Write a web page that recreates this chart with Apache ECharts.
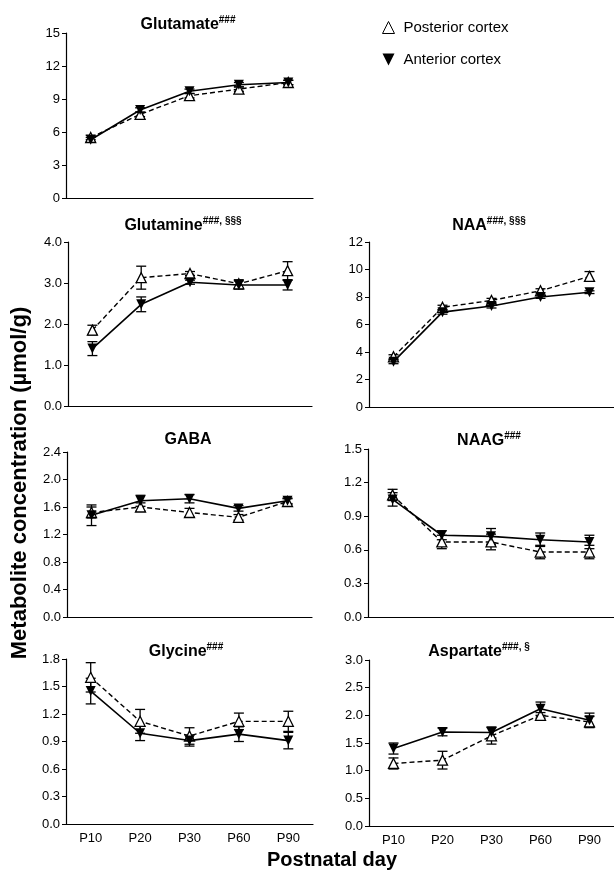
<!DOCTYPE html>
<html>
<head>
<meta charset="utf-8">
<script src="https://cdn.jsdelivr.net/npm/echarts@6/dist/echarts.min.js"></script>
<style>
  html, body { margin: 0; padding: 0; background: #fff; }
  #chart { width: 614px; height: 870px; }
</style>
</head>
<body>
<div id="chart"></div>
<script>
const days = ['P10', 'P20', 'P30', 'P60', 'P90'];

// posterior = open triangle, dashed; anterior = filled down triangle, solid
const gluPost = [5.5, 7.6, 9.3, 9.9, 10.5];
const gluPostErr = [0.2, 0.2, 0.2, 0.2, 0.2];
const gluAnt = [5.3, 8.0, 9.7, 10.3, 10.5];
const gluAntErr = [0.2, 0.2, 0.2, 0.2, 0.2];

const glnPost = [1.85, 3.13, 3.23, 2.98, 3.3];
const glnPostErr = [0.12, 0.28, 0.05, 0.1, 0.22];
const glnAnt = [1.4, 2.48, 3.02, 2.95, 2.95];
const glnAntErr = [0.17, 0.18, 0.05, 0.1, 0.12];

const naaPost = [3.65, 7.25, 7.75, 8.45, 9.5];
const naaPostErr = [0.15, 0.15, 0.15, 0.15, 0.35];
const naaAnt = [3.3, 6.9, 7.35, 8.0, 8.35];
const naaAntErr = [0.15, 0.15, 0.15, 0.1, 0.1];

const gabaPost = [1.52, 1.6, 1.52, 1.45, 1.68];
const gabaPostErr = [0.08, 0.06, 0.06, 0.04, 0.04];
const gabaAnt = [1.48, 1.69, 1.72, 1.58, 1.69];
const gabaAntErr = [0.15, 0.08, 0.06, 0.04, 0.04];

const naagPost = [1.09, 0.67, 0.67, 0.58, 0.58];
const naagPostErr = [0.05, 0.06, 0.07, 0.06, 0.06];
const naagAnt = [1.05, 0.73, 0.72, 0.69, 0.67];
const naagAntErr = [0.06, 0.04, 0.07, 0.06, 0.06];

const glyPost = [1.6, 1.12, 0.96, 1.12, 1.12];
const glyPostErr = [0.16, 0.13, 0.09, 0.09, 0.11];
const glyAnt = [1.45, 0.99, 0.91, 0.98, 0.91];
const glyAntErr = [0.14, 0.08, 0.06, 0.08, 0.09];

const aspPost = [1.13, 1.19, 1.63, 2.0, 1.88];
const aspPostErr = [0.1, 0.16, 0.15, 0.05, 0.1];
const aspAnt = [1.4, 1.7, 1.69, 2.12, 1.91];
const aspAntErr = [0.1, 0.07, 0.1, 0.12, 0.13];

const panels = [
    { name: 'Glutamate', sup: '###', post: gluPost, postErr: gluPostErr, ant: gluAnt, antErr: gluAntErr, max: 15, step: 3, dec: 0 },
    { name: 'Glutamine', sup: '###, §§§', post: glnPost, postErr: glnPostErr, ant: glnAnt, antErr: glnAntErr, max: 4, step: 1, dec: 1 },
    { name: 'NAA', sup: '###, §§§', post: naaPost, postErr: naaPostErr, ant: naaAnt, antErr: naaAntErr, max: 12, step: 2, dec: 0 },
    { name: 'GABA', sup: '', post: gabaPost, postErr: gabaPostErr, ant: gabaAnt, antErr: gabaAntErr, max: 2.4, step: 0.4, dec: 1 },
    { name: 'NAAG', sup: '###', post: naagPost, postErr: naagPostErr, ant: naagAnt, antErr: naagAntErr, max: 1.5, step: 0.3, dec: 1 },
    { name: 'Glycine', sup: '###', post: glyPost, postErr: glyPostErr, ant: glyAnt, antErr: glyAntErr, max: 1.8, step: 0.3, dec: 1 },
    { name: 'Aspartate', sup: '###, §', post: aspPost, postErr: aspPostErr, ant: aspAnt, antErr: aspAntErr, max: 3, step: 0.5, dec: 1 }
];

// layout in pixels
const grids = [
    { left: 66, top: 33, width: 247, height: 165 },
    { left: 68, top: 242, width: 244, height: 164 },
    { left: 369, top: 242, width: 249, height: 165 },
    { left: 67, top: 452, width: 245, height: 165 },
    { left: 368, top: 449, width: 250, height: 168 },
    { left: 66, top: 659, width: 247, height: 165 },
    { left: 369, top: 660, width: 249, height: 166 }
];
const titlePos = [[188, 15], [183, 216], [489, 216], [188, 430], [489, 431], [186, 642], [479, 642]];

const FONT = 'Liberation Sans, Arial, sans-serif';

function errRender(params, api) {
    const x = api.value(0);
    const lo = api.coord([x, api.value(1)]);
    const hi = api.coord([x, api.value(2)]);
    const w = 5;
    const st = { stroke: '#000', lineWidth: 1.3 };
    return {
        type: 'group',
        children: [
            { type: 'line', shape: { x1: lo[0], y1: lo[1], x2: hi[0], y2: hi[1] }, style: st },
            { type: 'line', shape: { x1: lo[0] - w, y1: lo[1], x2: lo[0] + w, y2: lo[1] }, style: st },
            { type: 'line', shape: { x1: hi[0] - w, y1: hi[1], x2: hi[0] + w, y2: hi[1] }, style: st }
        ]
    };
}

function errData(vals, errs) {
    return vals.map((v, i) => [i, v - errs[i], v + errs[i]]);
}

var myChart = echarts.init(document.getElementById('chart'), null, { renderer: 'canvas' });

const title = [], grid = [], xAxis = [], yAxis = [], series = [];

panels.forEach((p, k) => {
    title.push({
        text: p.sup ? '{t|' + p.name + '}{s|' + p.sup + '}' : '{t|' + p.name + '}',
        left: titlePos[k][0],
        top: titlePos[k][1],
        textAlign: 'center',
        padding: 0,
        textStyle: {
            rich: {
                t: { fontFamily: FONT, fontWeight: 'bold', fontSize: 16, color: '#000', lineHeight: 20 },
                s: { fontFamily: FONT, fontWeight: 'bold', fontSize: 10, color: '#000', verticalAlign: 'top', lineHeight: 20, padding: [0, 0, 8, 0] }
            }
        }
    });
    grid.push(Object.assign({ containLabel: false }, grids[k]));
    const bottomRow = k >= 5;
    xAxis.push({
        gridIndex: k,
        type: 'category',
        data: days,
        boundaryGap: true,
        axisLine: { lineStyle: { color: '#000', width: 1.2 } },
        axisTick: { show: false },
        axisLabel: { show: bottomRow, color: '#000', fontFamily: FONT, fontSize: 13, margin: 8 },
        splitLine: { show: false }
    });
    yAxis.push({
        gridIndex: k,
        type: 'value',
        min: 0,
        max: p.max,
        interval: p.step,
        axisLine: { show: true, lineStyle: { color: '#000', width: 1.2 } },
        axisTick: { show: true, length: 4, lineStyle: { color: '#000' } },
        axisLabel: {
            color: '#000', fontFamily: FONT, fontSize: 13, margin: 6,
            formatter: (v) => v.toFixed(p.dec)
        },
        splitLine: { show: false }
    });
    series.push({
        type: 'custom',
        xAxisIndex: k, yAxisIndex: k,
        renderItem: errRender,
        data: errData(p.post, p.postErr),
        encode: { x: 0, y: [1, 2] },
        z: 1, silent: true
    });
    series.push({
        type: 'custom',
        xAxisIndex: k, yAxisIndex: k,
        renderItem: errRender,
        data: errData(p.ant, p.antErr),
        encode: { x: 0, y: [1, 2] },
        z: 1, silent: true
    });
    series.push({
        name: 'Posterior cortex',
        type: 'line',
        xAxisIndex: k, yAxisIndex: k,
        data: p.post,
        symbol: 'triangle',
        symbolSize: 10,
        showAllSymbol: true,
        lineStyle: { color: '#000', width: 1.4, type: [5, 3] },
        itemStyle: { color: '#fff', borderColor: '#000', borderWidth: 1.3 },
        z: 2, animation: false
    });
    series.push({
        name: 'Anterior cortex',
        type: 'line',
        xAxisIndex: k, yAxisIndex: k,
        data: p.ant,
        symbol: 'triangle',
        symbolRotate: 180,
        symbolSize: 10,
        showAllSymbol: true,
        lineStyle: { color: '#000', width: 1.6 },
        itemStyle: { color: '#000', borderColor: '#000', borderWidth: 0 },
        z: 3, animation: false
    });
});

option = {
    animation: false,
    backgroundColor: '#fff',
    title: title,
    legend: {
        orient: 'vertical',
        left: 377,
        top: 15,
        itemWidth: 12,
        itemHeight: 12,
        itemGap: 17,
        textStyle: { color: '#000', fontFamily: FONT, fontSize: 15, padding: [0, 0, 0, 4] },
        data: [
            { name: 'Posterior cortex', icon: 'triangle', itemStyle: { color: '#fff', borderColor: '#000', borderWidth: 1 } },
            { name: 'Anterior cortex', icon: 'path://M0,0L12,0L6,12Z', itemStyle: { color: '#000', borderWidth: 0 } }
        ]
    },
    grid: grid,
    xAxis: xAxis,
    yAxis: yAxis,
    graphic: [
        {
            type: 'text',
            x: 20, y: 483,
            rotation: Math.PI / 2,
            style: {
                text: 'Metabolite concentration (µmol/g)',
                font: 'bold 22px ' + FONT,
                fill: '#000',
                align: 'center',
                verticalAlign: 'middle'
            }
        },
        {
            type: 'text',
            x: 332, y: 860,
            style: {
                text: 'Postnatal day',
                font: 'bold 20px ' + FONT,
                fill: '#000',
                align: 'center',
                verticalAlign: 'middle'
            }
        }
    ],
    series: series
};
myChart.setOption(option);
</script>
</body>
</html>
